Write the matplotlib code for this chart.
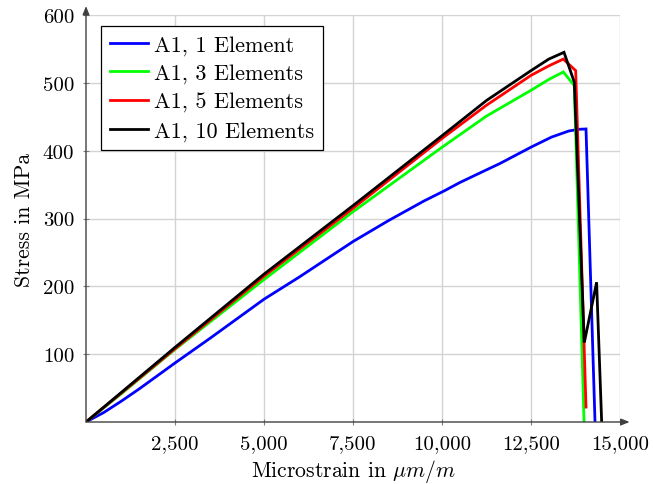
import matplotlib
matplotlib.use("Agg")
import matplotlib.pyplot as plt

plt.rcParams['font.family'] = 'serif'
plt.rcParams['font.serif'] = ['cmr10', 'DejaVu Serif']
plt.rcParams['mathtext.fontset'] = 'cm'
plt.rcParams['axes.formatter.use_mathtext'] = True

# Data (microstrain, stress MPa)
x_1el = [0, 500, 1000, 1500, 2500, 3500, 5000, 6000, 7500, 8500, 9500, 10073, 10500,
         11140, 11624, 12494, 13076, 13562, 13848, 14045, 14298]
y_1el = [0, 14, 31, 49, 87, 124, 181, 214, 266, 297, 326, 341, 353,
         369, 381, 405, 420, 429, 431.5, 432, 0]

x_3el = [0, 1000, 2500, 5000, 7500, 10000, 11250, 12500, 13000, 13407, 13716, 13989]
y_3el = [0, 42, 107, 210, 310, 405, 451, 489, 505, 516, 496, 2]

x_5el = [0, 1000, 2500, 5000, 7500, 10000, 11250, 12500, 13000, 13407, 13755, 14045]
y_5el = [0, 43, 108, 215, 315, 418, 467, 511, 525, 535, 518, 22]

x_10el = [0, 1000, 2500, 5000, 7500, 10000, 11250, 12500, 13000, 13427, 13716, 13997, 14343, 14485]
y_10el = [0, 44, 110, 218, 319, 422, 474, 518, 535, 545, 501, 117, 206, 0]

series = [
    ("A1, 1 Element", x_1el, y_1el, "#0000ff"),
    ("A1, 3 Elements", x_3el, y_3el, "#00ff00"),
    ("A1, 5 Elements", x_5el, y_5el, "#ff0000"),
    ("A1, 10 Elements", x_10el, y_10el, "#000000"),
]

xticks = [2500, 5000, 7500, 10000, 12500, 15000]
yticks = [100, 200, 300, 400, 500, 600]

fig = plt.figure(figsize=(6.53, 4.85), dpi=100)
ax = fig.add_axes([86/653, 1-423/485, (620-86)/653, (423-16)/485])

for label, xs, ys, c in series:
    ax.plot(xs, ys, color=c, lw=2.0, label=label, solid_joinstyle='miter')

ax.set_xlim(0, 15000)
ax.set_ylim(0, 600)
ax.set_xticks(xticks)
ax.set_xticklabels([f"{v:,}" for v in xticks])
ax.set_yticks(yticks)
ax.set_yticklabels([str(v) for v in yticks])
ax.tick_params(axis='both', labelsize=15, direction='inout', length=5, color='#7f7f7f', width=0.8)
ax.tick_params(axis='x', pad=6)
ax.tick_params(axis='y', pad=6)
ax.grid(True, color='#d3d3d3', lw=1.0)
ax.set_axisbelow(True)
for s in ax.spines.values():
    s.set_visible(False)

arrowprops = dict(arrowstyle='-|>,head_length=0.5,head_width=0.2', color='#404040', lw=1.0, shrinkA=0, shrinkB=0)
ax.annotate('', xy=(1.018, 0), xytext=(0, 0), xycoords='axes fraction', textcoords='axes fraction',
            arrowprops=arrowprops, annotation_clip=False)
ax.annotate('', xy=(0, 1.022), xytext=(0, 0), xycoords='axes fraction', textcoords='axes fraction',
            arrowprops=arrowprops, annotation_clip=False)

ax.set_xlabel(r"Microstrain in $\mu m/m$", fontsize=15.6, labelpad=4)
ax.set_ylabel("Stress in MPa", fontsize=15.6, labelpad=6)

leg = ax.legend(loc='upper left', bbox_to_anchor=(15/534, 1-11/407), fontsize=16,
                frameon=True, fancybox=False, framealpha=1, edgecolor='black',
                handlelength=1.7, handletextpad=0.3, borderpad=0.4, labelspacing=0.39,
                borderaxespad=0)
leg.get_frame().set_linewidth(0.9)

fig.savefig("out.png", dpi=100)
